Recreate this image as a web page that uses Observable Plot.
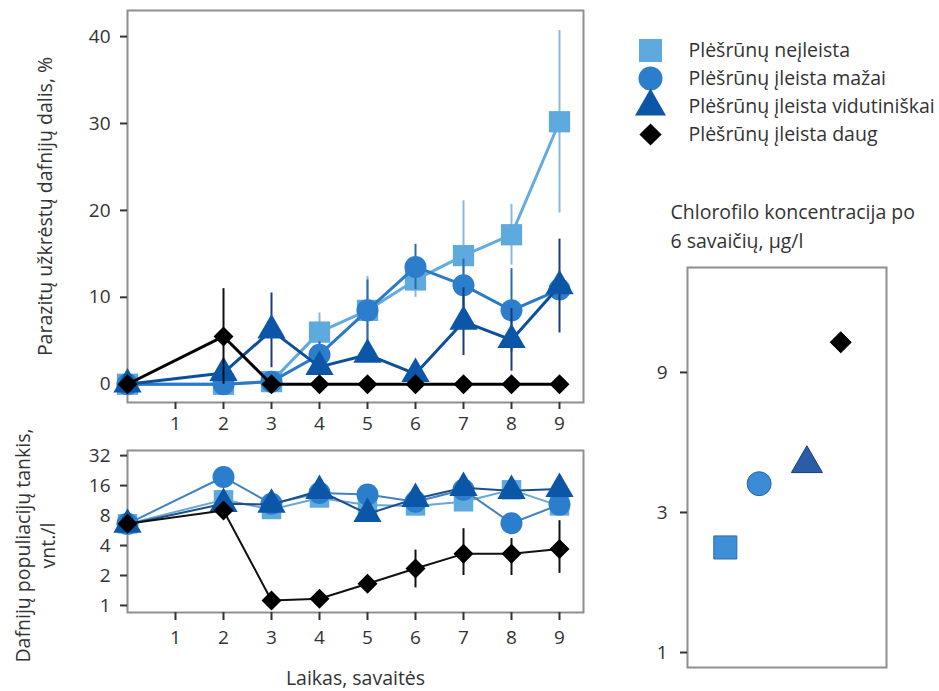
<!DOCTYPE html>
<html><head><meta charset="utf-8">
<script src="https://cdn.jsdelivr.net/npm/d3@7"></script>
<script src="https://cdn.jsdelivr.net/npm/@observablehq/plot@0.6"></script>
<style>
body{margin:0;background:#fff;}
#chart{position:relative;width:939px;height:691px;overflow:hidden;background:#fff;font-family:"Open Sans",sans-serif;}
#chart > svg{position:absolute;}
</style></head><body><div id="chart"></div>
<script>
// ---- data ----
const weeks = [0, 2, 3, 4, 5, 6, 7, 8, 9];
const seriesNames = ["Plėšrūnų neįleista", "Plėšrūnų įleista mažai", "Plėšrūnų įleista vidutiniškai", "Plėšrūnų įleista daug"];
const xTicks = [1, 2, 3, 4, 5, 6, 7, 8, 9];
const infTicks = [0, 10, 20, 30, 40];
const densTicks = [1, 2, 4, 8, 16, 32];
const chlTicks = [1, 3, 9];

// infected daphnia share, %
const infNone = [0, 0, 0.3, 6.0, 8.5, 12.0, 14.8, 17.2, 30.2];
const infNoneErr = [null, null, null, 2.2, 3.9, 2.0, 6.3, 3.5, 10.5];
const infLow = [0, 0, 0.3, 3.4, 8.5, 13.5, 11.4, 8.5, 10.9];
const infLowErr = [null, null, null, 1.5, 3.5, 2.6, 3.0, 4.8, null];
const infMid = [0, 1.3, 6.2, 2.0, 3.4, 1.2, 7.2, 5.1, 11.3];
const infMidErr = [null, null, 4.3, null, null, null, 3.9, 3.6, 5.4];
const infHigh = [0, 5.5, 0, 0, 0, 0, 0, 0, 0];
const infHighErr = [null, 5.5, null, null, null, null, null, null, null];

// daphnia population density, ind./l
const densNone = [6.6, 11.5, 9.2, 12.0, 10.2, 10.0, 11.0, 14.5, 10.0];
const densLow = [6.6, 19.5, 10.5, 13.5, 13.0, 11.0, 14.5, 6.7, 10.3];
const densMid = [6.5, 10.5, 10.3, 14.2, 8.3, 11.8, 15.2, 14.2, 14.8];
const densHigh = [6.6, 9.0, 1.12, 1.17, 1.65, 2.35, 3.3, 3.3, 3.7];
const densHighLo = [null, null, null, null, null, 1.5, 2.0, 2.0, 2.1];
const densHighHi = [null, null, null, null, null, 3.6, 5.9, 4.7, 7.1];

// chlorophyll after 6 weeks, µg/l
const chlX = [0.19, 0.36, 0.60, 0.77];
const chlValue = [2.28, 3.76, 4.4, 11.4];

const topYLabel = "Parazitų užkrėstų dafnijų dalis, %";
const bottomYLabel = "Dafnijų populiacijų tankis,\nvnt./l";
const xLabel = "Laikas, savaitės";
const chlTitle = "Chlorofilo koncentracija po\n6 savaičių, µg/l";

// ---- styles ----
const styles = [
  {symbol: "square",   fill: "#5ea9de", line: "#63abdf", dline: "#6ba5d2", bar: "#86b9e0", r: 12,   rd: 11,   rc: 13,  cfill: "#3f8fd6", cstroke: "#2e6aa6"},
  {symbol: "circle",   fill: "#2c7dcc", line: "#2b79c7", dline: "#4283bf", bar: "#2e6aa8", r: 11,   rd: 11,   rc: 12,  cfill: "#3b8ad6", cstroke: "#2a66a2"},
  {symbol: "triangle", fill: "#0c56a7", line: "#0c4f9c", dline: "#1a4f8c", bar: "#173f70", r: 10.5, rd: 10.5, rc: 11.5, cfill: "#2a5ca8", cstroke: "#173e7a"},
  {symbol: "diamond2", fill: "#000000", line: "#000000", dline: "#111111", bar: "#111111", r: 9,    rd: 9,    rc: 9.5, cfill: "#000000", cstroke: "#000000"}
];

const infVals = [infNone, infLow, infMid, infHigh];
const infErrs = [infNoneErr, infLowErr, infMidErr, infHighErr];
const densVals = [densNone, densLow, densMid, densHigh];

const rows = seriesNames.map((name, s) => weeks.map((w, i) => ({
  series: name, week: w,
  inf: infVals[s][i], infErr: infErrs[s][i],
  dens: densVals[s][i],
  densLo: s === 3 ? densHighLo[i] : null,
  densHi: s === 3 ? densHighHi[i] : null
})));

const font = {fontFamily: "'Open Sans', sans-serif", fontSize: "19px", color: "#333", background: "transparent", overflow: "visible"};
const labelSize = 19.5;
const tickFont = 19;
const frameColor = "#8e8e8e";
const fmt = d => String(d);
const chart = document.getElementById("chart");
function place(svg, left, top) { svg.style.left = left + "px"; svg.style.top = top + "px"; chart.appendChild(svg); }

// ---- top panel ----
const topMarks = [];
rows.forEach((data, s) => {
  const st = styles[s];
  topMarks.push(Plot.ruleX(data.filter(d => d.infErr != null), {x: "week", y1: d => d.inf - d.infErr, y2: d => d.inf + d.infErr, stroke: st.bar, strokeWidth: 2}));
  topMarks.push(Plot.line(data, {x: "week", y: "inf", stroke: st.line, strokeWidth: 3}));
  topMarks.push(Plot.dot(data, {x: "week", y: "inf", symbol: () => st.symbol, fill: st.fill, r: st.r}));
});
const topPlot = Plot.plot({
  width: 600, height: 440, marginLeft: 127, marginRight: 17, marginTop: 10, marginBottom: 38,
  style: font,
  x: {domain: [0, 9.5]},
  y: {domain: [-2.1, 43]},
  symbol: {type: "identity"},
  marks: [
    Plot.frame({stroke: frameColor, strokeWidth: 2}),
    Plot.axisX({ticks: xTicks, tickFormat: fmt, tickSize: 7, tickPadding: 7, strokeWidth: 2, fontSize: tickFont, label: null}),
    Plot.axisY({ticks: infTicks, tickFormat: fmt, tickSize: 7, tickPadding: 10, strokeWidth: 2, fontSize: tickFont, label: null}),
    ...topMarks,
    Plot.text([topYLabel], {text: d => d, frameAnchor: "left", textAnchor: "middle", lineAnchor: "middle", rotate: -90, dx: -82, dy: 0, fill: "#333", fontSize: labelSize})
  ]
});
place(topPlot, 0, 0);

// ---- bottom panel ----
const botMarks = [];
rows.forEach((data, s) => {
  const st = styles[s];
  botMarks.push(Plot.ruleX(data.filter(d => d.densLo != null), {x: "week", y1: "densLo", y2: "densHi", stroke: st.bar, strokeWidth: 2}));
  botMarks.push(Plot.line(data, {x: "week", y: "dens", stroke: st.dline, strokeWidth: 2}));
  botMarks.push(Plot.dot(data, {x: "week", y: "dens", symbol: () => st.symbol, fill: st.fill, r: st.rd}));
});
const botPlot = Plot.plot({
  width: 600, height: 251, marginLeft: 127, marginRight: 17, marginTop: 10, marginBottom: 79,
  style: font,
  x: {domain: [0, 9.5]},
  y: {type: "log", base: 2, domain: [0.85, 36]},
  symbol: {type: "identity"},
  marks: [
    Plot.frame({stroke: frameColor, strokeWidth: 2}),
    Plot.axisX({ticks: xTicks, tickFormat: fmt, tickSize: 8, tickPadding: 10, strokeWidth: 2, fontSize: tickFont, label: null}),
    Plot.axisY({ticks: densTicks, tickFormat: fmt, tickSize: 7, tickPadding: 10, strokeWidth: 2, fontSize: tickFont, label: null}),
    ...botMarks,
    Plot.text([xLabel], {text: d => d, frameAnchor: "bottom", textAnchor: "middle", lineAnchor: "middle", dy: 66, fill: "#333", fontSize: labelSize}),
    Plot.text([bottomYLabel], {text: d => d, frameAnchor: "left", textAnchor: "middle", lineAnchor: "middle", rotate: -90, dx: -93, dy: 14, lineHeight: 1.26, fill: "#333", fontSize: labelSize})
  ]
});
place(botPlot, 0, 440);

// ---- legend ----
const legendData = seriesNames.map((name, s) => ({name, s}));
const legMarks = [];
legendData.forEach(d => {
  const st = styles[d.s];
  legMarks.push(Plot.dot([d], {y: "name", frameAnchor: "left", symbol: () => st.symbol, fill: st.fill, r: st.r + 1}));
});
const legend = Plot.plot({
  width: 339, height: 165, marginLeft: 50, marginRight: 0, marginTop: 50, marginBottom: 31,
  style: font,
  y: {type: "point", domain: seriesNames, padding: 0, axis: null},
  symbol: {type: "identity"},
  marks: [
    ...legMarks,
    Plot.text(legendData, {y: "name", text: "name", frameAnchor: "left", dx: 38, textAnchor: "start", fill: "#333", fontSize: labelSize})
  ]
});
place(legend, 600, 0);

// ---- chlorophyll panel ----
const chlData = seriesNames.map((name, s) => ({name, x: chlX[s], v: chlValue[s], s}));
const chlMarks = chlData.map(d => {
  const st = styles[d.s];
  return Plot.dot([d], {x: "x", y: "v", symbol: () => st.symbol, fill: st.cfill, stroke: st.cstroke, strokeWidth: 1, r: st.rc});
});
const chlPlot = Plot.plot({
  width: 339, height: 531, marginLeft: 87, marginRight: 53, marginTop: 107, marginBottom: 24,
  style: font,
  x: {domain: [0, 1], axis: null},
  y: {type: "log", domain: [0.889, 20.5]},
  symbol: {type: "identity"},
  marks: [
    Plot.frame({stroke: frameColor, strokeWidth: 2}),
    Plot.axisY({ticks: chlTicks, tickFormat: () => "", tickSize: 7, tickPadding: 13, strokeWidth: 2, label: null}),
    Plot.text(chlTicks, {y: d => d, text: fmt, frameAnchor: "left", dx: -20, textAnchor: "end", fill: "#333", fontSize: tickFont}),
    ...chlMarks,
    Plot.text([chlTitle], {text: d => d, frameAnchor: "top-left", dx: -17, dy: -43, textAnchor: "start", lineAnchor: "middle", lineHeight: 1.44, fill: "#333", fontSize: labelSize})
  ]
});
place(chlPlot, 600, 160);
</script></body></html>
